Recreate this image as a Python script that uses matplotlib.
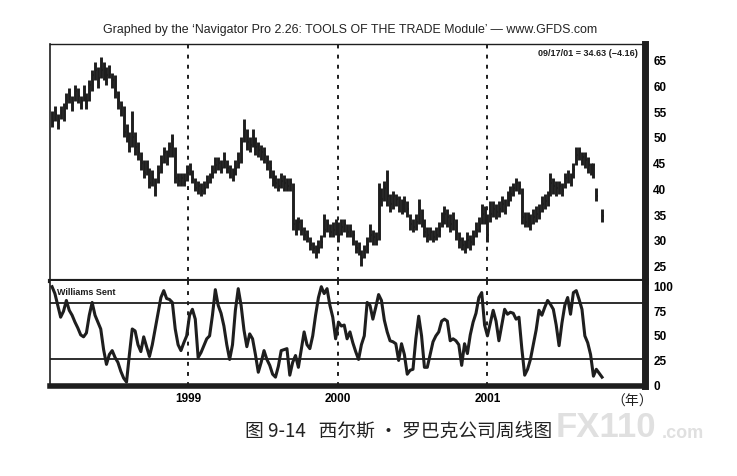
import numpy as np
import pandas as pd
import matplotlib
matplotlib.use("Agg")
import matplotlib.pyplot as plt
import matplotlib.dates as mdates

# ---------------- data (weekly bars) ----------------
start_date = "1998-02-02"
n_weeks = 193

high = [55, 56, 54.5, 56, 56.5, 58.5, 59.5, 58, 60, 59.5,
        58, 60, 58.5, 61, 63, 64.5, 63.5, 65.5, 64.5, 63.5,
        64, 62.5, 62, 59, 57, 56, 52.5, 51, 55, 51,
        49, 47, 45.5, 45.5, 44, 43.5, 42, 44.5, 46.5, 48,
        47.5, 49, 50.5, 48, 43, 43, 43, 44.5, 45, 43.5,
        42, 41.5, 41, 41.5, 42.5, 43, 44.5, 46, 46, 45.5,
        47, 45.5, 44.5, 44, 45.5, 47, 50, 53.5, 51.5, 50,
        51.5, 50, 49, 48.5, 48, 46.5, 45.5, 43.5, 42.5, 42,
        43, 42.5, 42, 42, 41, 34, 34.5, 34, 32.5, 32,
        30.5, 29.5, 29, 30, 31, 35, 34, 33, 33.5, 34,
        33.5, 34, 34, 33, 33, 32, 30, 29.5, 28, 29,
        30.5, 33, 32, 31.5, 41, 40, 41.5, 43.5, 39, 39.5,
        39, 38.5, 38, 38.5, 37.5, 35, 34, 35, 38, 36,
        34, 32.5, 32.5, 32, 32.5, 33.5, 35.5, 36.5, 36, 35,
        35.5, 34, 31.5, 30.5, 30, 31.5, 31, 32, 33.5, 34.5,
        37, 36.5, 35, 37.5, 37.5, 37, 37.5, 38.5, 38, 39.5,
        40.5, 41, 42, 41.5, 40, 35.5, 35.5, 35, 36, 36.5,
        37, 38.5, 39, 39.5, 43, 42, 41.5, 41.5, 41, 43,
        43.5, 43, 45, 48, 48, 47, 47, 46, 45, 45,
        40, np.nan, 36]

low = [52, 53, 51.5, 53.5, 53, 55.5, 56.5, 55, 57, 56.5,
       55.5, 57, 55.5, 57, 59, 61, 59.5, 61.5, 61, 60,
       61.5, 59.5, 57.5, 55.5, 54, 50, 49, 47, 48, 46.5,
       45.5, 43.5, 42, 42.5, 40, 40.5, 38.5, 41, 43, 45,
       44.5, 46, 46, 41, 40.5, 40.5, 40.5, 41.5, 42.5, 41,
       39.5, 39, 38.5, 39, 40, 41, 42, 43, 43.5, 43,
       44, 43, 42, 41.5, 42.5, 44, 45, 49, 47.5, 47,
       48, 46.5, 46, 45.5, 45, 43.5, 42, 40.5, 40, 39.5,
       40, 39.5, 39.5, 39.5, 32, 31, 32, 31, 30, 29.5,
       28, 27.5, 26.5, 27.5, 28.5, 30.5, 31.5, 30.5, 30.5, 31,
       29.5, 31, 31.5, 30.5, 30.5, 29, 27.5, 27, 25, 26.5,
       27.5, 29.5, 29, 29, 30, 36.5, 37.5, 36.5, 35.5, 36,
       36.5, 35.5, 35, 35.5, 34.5, 32, 31.5, 32, 33, 32.5,
       30.5, 29.5, 30, 29.5, 30, 30.5, 32.5, 33, 32.5, 31.5,
       32, 30, 28.5, 28, 27.5, 28.5, 28, 29, 30.5, 31.5,
       33, 33, 29.5, 33.5, 34.5, 34, 34.5, 35.5, 35, 36.5,
       37.5, 38.5, 39.5, 39, 33, 32.5, 32.5, 32, 33, 33.5,
       34, 35.5, 36, 36.5, 38.5, 39, 38.5, 39, 38.5, 40,
       41, 40.5, 42, 44.5, 45.5, 44.5, 44, 43, 42.5, 42,
       37.5, np.nan, 33.5]

close = [53, 54.5, 53, 55, 54, 57, 58, 56.5, 59, 58,
         57, 58.5, 57, 60, 62, 63, 61.5, 63, 64, 62,
         63.5, 61, 59, 57, 56, 51, 50.5, 48, 50, 48,
         47, 45, 43, 44, 41, 42, 40, 43, 45, 47,
         46, 48, 49.5, 42, 41.5, 42, 41.5, 43, 44, 42,
         40, 40.5, 39.5, 40, 41, 42, 43, 44.5, 45, 44,
         45.5, 44, 43, 42.5, 44, 45, 49, 51.5, 49, 48.5,
         50, 48, 47.5, 47, 46.5, 45, 44, 41.5, 41, 40.5,
         41.5, 41, 40.5, 41, 33, 32, 33.5, 32, 31, 30.5,
         29, 28.5, 27.5, 28.5, 29.5, 32, 33, 31.5, 32, 32.5,
         31, 32.5, 33, 31.5, 32, 31, 28.5, 28, 26.5, 28,
         29, 31, 30.5, 30, 39, 38, 40, 38.5, 37, 38.5,
         38, 37, 36.5, 37.5, 36, 33, 32.5, 33.5, 36, 34,
         31.5, 31, 31.5, 30.5, 31, 32, 34, 35, 34.5, 33,
         34, 31.5, 30, 29, 28.5, 30, 29.5, 30.5, 32, 33,
         35, 34.5, 31, 35, 36, 35.5, 36, 37, 36.5, 38,
         39, 40, 41, 40.5, 34.5, 33.5, 34, 33, 34.5, 35,
         35.5, 37, 37.5, 38, 41, 40.5, 40, 40.5, 39.5, 42,
         42.5, 42, 43.5, 46.5, 47, 46, 45.5, 44.5, 44, 44.5,
         38.5, np.nan, 34.63]

williams = [99, 92, 80, 68, 74, 85, 75, 70, 63, 57,
            50, 48, 52, 70, 83, 70, 63, 56, 35, 20,
            30, 34, 27, 22, 13, 6, 2, 30, 56, 54,
            40, 33, 48, 38, 28, 40, 56, 72, 88, 95,
            87, 86, 83, 56, 40, 34, 42, 49, 70, 76,
            66, 27, 32, 39, 46, 49, 70, 96, 80, 72,
            59, 40, 25, 40, 75, 97, 80, 55, 38, 51,
            46, 30, 12, 22, 34, 25, 19, 10, 7, 18,
            34, 35, 36, 9, 22, 29, 17, 35, 53, 40,
            36, 49, 70, 88, 99, 92, 97, 80, 68, 46,
            63, 59, 60, 46, 53, 42, 33, 25, 40, 49,
            83, 80, 66, 78, 91, 85, 65, 53, 44, 43,
            41, 24, 41, 30, 10, 14, 15, 46, 69, 49,
            17, 17, 30, 43, 49, 53, 64, 66, 64, 44,
            46, 44, 40, 19, 41, 31, 50, 63, 72, 88,
            93, 60, 49, 62, 75, 64, 44, 60, 76, 71,
            73, 72, 66, 68, 36, 9, 15, 25, 40, 55,
            75, 70, 78, 85, 81, 76, 60, 39, 62, 80,
            88, 71, 93, 95, 86, 76, 49, 42, 30, 8,
            15, np.nan, 7]

price_ticks = [25, 30, 35, 40, 45, 50, 55, 60, 65]
ind_ticks = [0, 25, 50, 75, 100]
ind_levels = [82, 25]
year_labels = ["1999", "2000", "2001"]

title_text = "Graphed by the \u2018Navigator Pro 2.26: TOOLS OF THE TRADE Module\u2019 \u2014 www.GFDS.com"
last_label = "09/17/01 = 34.63 (\u22124.16)"
ind_name = "Williams Sent"
caption = "图 9-14   西尔斯 · 罗巴克公司周线图"
unit_label = "（年）"

# ---------------- figure ----------------
plt.rcParams['font.family'] = ['Liberation Sans', 'DejaVu Sans']
W, H = 737, 477
fig = plt.figure(figsize=(W / 100, H / 100), dpi=100)
fig.patch.set_facecolor("white")

def box(l, t, r, b):
    return [l / W, 1 - b / H, (r - l) / W, (b - t) / H]

ax = fig.add_axes(box(50, 45, 645, 282))
ax2 = fig.add_axes(box(50, 282, 645, 387), sharex=ax)

dates = pd.date_range(start_date, periods=n_weeks, freq="7D")
high_a = np.array(high, float)
low_a = np.array(low, float)
close_a = np.array(close, float)
will_a = np.array(williams, float)
ok = ~np.isnan(high_a)

ink = "#1e1e1e"
ax.vlines(dates[ok], low_a[ok], high_a[ok], color=ink, lw=2.1)
ax.hlines(close_a[ok], dates[ok], dates[ok] + pd.Timedelta(days=4.5), color=ink, lw=1.6)

okw = ~np.isnan(will_a)
ax2.plot(dates[okw], will_a[okw], color=ink, lw=2.2, solid_joinstyle="round")
for lv in ind_levels:
    ax2.axhline(lv, color=ink, lw=1.3)

# year lines
year_dates = [pd.Timestamp(y + "-01-01") for y in year_labels]
for a in (ax, ax2):
    for d in year_dates:
        a.axvline(d, color=ink, lw=1.4, ls=(0, (2, 3.2)))

x0 = dates[0] - pd.Timedelta(days=5)
x1 = dates[0] + pd.Timedelta(weeks=207)
ax.set_xlim(x0, x1)
ax.set_ylim(22.0, 68.05)
ax2.set_ylim(-2.0, 104.8)

# axes styling
for a in (ax, ax2):
    a.yaxis.tick_right()
    a.tick_params(axis="y", length=0, pad=6, labelsize=8.5)
ax.set_yticks(price_ticks)
ax.set_yticklabels([str(t) for t in price_ticks], fontweight="bold", fontsize=8.5)
ax2.set_yticks(ind_ticks)
ax2.set_yticklabels([str(t) for t in ind_ticks], fontweight="bold", fontsize=8.5)

ax.tick_params(axis="x", length=0, labelbottom=False)
ax2.set_xticks(year_dates)
ax2.set_xticklabels(year_labels, fontweight="bold", fontsize=8.5)
ax2.tick_params(axis="x", length=0, pad=4)

ax.spines["left"].set_linewidth(1.2)
ax.spines["top"].set_linewidth(1.0)
ax.spines["right"].set_linewidth(5)
ax.spines["bottom"].set_linewidth(3)
ax2.spines["top"].set_visible(False)
ax2.spines["left"].set_linewidth(1.2)
ax2.spines["right"].set_linewidth(5)
ax2.spines["bottom"].set_linewidth(4)
for a in (ax, ax2):
    for s in a.spines.values():
        s.set_color(ink)

# texts
fig.text(350 / W, 1 - 30 / H, title_text, ha="center", va="center", fontsize=8.9, color="#222")
ax.text(0.988, 0.985, last_label, transform=ax.transAxes, ha="right", va="top",
        fontsize=6.5, fontweight="bold", color=ink)
ax2.text(0.012, 0.9, ind_name, transform=ax2.transAxes, ha="left", va="center",
         fontsize=6.5, fontweight="bold", color=ink)

cjk = ['Noto Sans CJK SC', 'DejaVu Sans']
fig.text(632 / W, 1 - 402 / H, unit_label, ha="center", va="center", fontsize=10,
         family=cjk, color="#222")
fig.text(399 / W, 1 - 431 / H, caption, ha="center", va="center", fontsize=13.5,
         family=cjk, color="#222")
fig.text(556 / W, 1 - 428 / H, "FX110", ha="left", va="center", fontsize=25,
         fontweight="bold", color="#e0e0e0")
fig.text(662 / W, 1 - 434 / H, ".com", ha="left", va="center", fontsize=13,
         fontweight="bold", color="#e0e0e0")

fig.savefig("out.png", dpi=100)
